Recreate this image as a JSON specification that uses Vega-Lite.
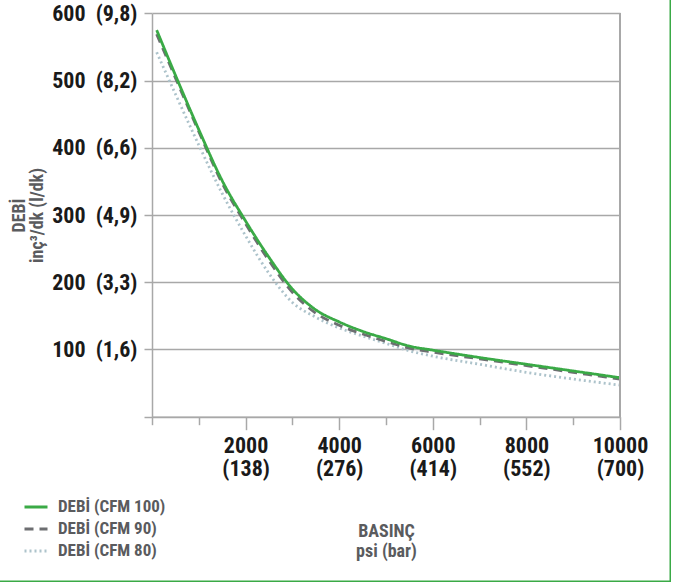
{
  "$schema": "https://vega.github.io/schema/vega-lite/v6.json",
  "width": 671,
  "height": 582,
  "autosize": {"type": "none"},
  "padding": 0,
  "background": "white",
  "config": {
    "view": {"stroke": "#3aaa46", "strokeWidth": 3, "strokeDash": [0, 671, 1253, 582]},
    "font": "'Roboto Condensed', 'DejaVu Sans Condensed', 'Liberation Sans Narrow', 'Arial Narrow', Roboto, sans-serif"
  },
  "data": {
    "values": [
      {"psi": 100, "debi": 542, "seri": "DEBİ (CFM 80)"},
      {"psi": 500, "debi": 480, "seri": "DEBİ (CFM 80)"},
      {"psi": 1000, "debi": 404, "seri": "DEBİ (CFM 80)"},
      {"psi": 1500, "debi": 332, "seri": "DEBİ (CFM 80)"},
      {"psi": 2000, "debi": 269, "seri": "DEBİ (CFM 80)"},
      {"psi": 2500, "debi": 213, "seri": "DEBİ (CFM 80)"},
      {"psi": 3000, "debi": 170, "seri": "DEBİ (CFM 80)"},
      {"psi": 3500, "debi": 148, "seri": "DEBİ (CFM 80)"},
      {"psi": 4000, "debi": 132, "seri": "DEBİ (CFM 80)"},
      {"psi": 4500, "debi": 120, "seri": "DEBİ (CFM 80)"},
      {"psi": 5000, "debi": 109, "seri": "DEBİ (CFM 80)"},
      {"psi": 5500, "debi": 98, "seri": "DEBİ (CFM 80)"},
      {"psi": 6000, "debi": 90, "seri": "DEBİ (CFM 80)"},
      {"psi": 7000, "debi": 78, "seri": "DEBİ (CFM 80)"},
      {"psi": 8000, "debi": 66, "seri": "DEBİ (CFM 80)"},
      {"psi": 9000, "debi": 56, "seri": "DEBİ (CFM 80)"},
      {"psi": 10000, "debi": 47, "seri": "DEBİ (CFM 80)"},
      {"psi": 100, "debi": 569, "seri": "DEBİ (CFM 90)"},
      {"psi": 500, "debi": 504, "seri": "DEBİ (CFM 90)"},
      {"psi": 1000, "debi": 424, "seri": "DEBİ (CFM 90)"},
      {"psi": 1500, "debi": 347, "seri": "DEBİ (CFM 90)"},
      {"psi": 2000, "debi": 287, "seri": "DEBİ (CFM 90)"},
      {"psi": 2500, "debi": 232, "seri": "DEBİ (CFM 90)"},
      {"psi": 3000, "debi": 185, "seri": "DEBİ (CFM 90)"},
      {"psi": 3500, "debi": 154, "seri": "DEBİ (CFM 90)"},
      {"psi": 4000, "debi": 136, "seri": "DEBİ (CFM 90)"},
      {"psi": 4500, "debi": 123, "seri": "DEBİ (CFM 90)"},
      {"psi": 5000, "debi": 112, "seri": "DEBİ (CFM 90)"},
      {"psi": 5500, "debi": 102, "seri": "DEBİ (CFM 90)"},
      {"psi": 6000, "debi": 96, "seri": "DEBİ (CFM 90)"},
      {"psi": 7000, "debi": 86, "seri": "DEBİ (CFM 90)"},
      {"psi": 8000, "debi": 76, "seri": "DEBİ (CFM 90)"},
      {"psi": 9000, "debi": 66, "seri": "DEBİ (CFM 90)"},
      {"psi": 10000, "debi": 56, "seri": "DEBİ (CFM 90)"},
      {"psi": 100, "debi": 575, "seri": "DEBİ (CFM 100)"},
      {"psi": 500, "debi": 508, "seri": "DEBİ (CFM 100)"},
      {"psi": 1000, "debi": 427, "seri": "DEBİ (CFM 100)"},
      {"psi": 1500, "debi": 351, "seri": "DEBİ (CFM 100)"},
      {"psi": 2000, "debi": 291, "seri": "DEBİ (CFM 100)"},
      {"psi": 2500, "debi": 237, "seri": "DEBİ (CFM 100)"},
      {"psi": 3000, "debi": 190, "seri": "DEBİ (CFM 100)"},
      {"psi": 3500, "debi": 159, "seri": "DEBİ (CFM 100)"},
      {"psi": 4000, "debi": 141, "seri": "DEBİ (CFM 100)"},
      {"psi": 4500, "debi": 127, "seri": "DEBİ (CFM 100)"},
      {"psi": 5000, "debi": 116, "seri": "DEBİ (CFM 100)"},
      {"psi": 5500, "debi": 105, "seri": "DEBİ (CFM 100)"},
      {"psi": 6000, "debi": 99, "seri": "DEBİ (CFM 100)"},
      {"psi": 7000, "debi": 88, "seri": "DEBİ (CFM 100)"},
      {"psi": 8000, "debi": 78, "seri": "DEBİ (CFM 100)"},
      {"psi": 9000, "debi": 68, "seri": "DEBİ (CFM 100)"},
      {"psi": 10000, "debi": 58, "seri": "DEBİ (CFM 100)"}
    ]
  },
  "layer": [
    {
      "mark": {"type": "line", "interpolate": "monotone", "strokeWidth": 2.8},
      "encoding": {
        "x": {
          "field": "psi",
          "type": "quantitative",
          "scale": {"domain": [0, 10000], "range": [152, 620], "nice": false, "zero": false},
          "axis": {
            "orient": "bottom",
            "offset": -165.3,
            "values": [0, 1000, 2000, 3000, 4000, 5000, 6000, 7000, 8000, 9000, 10000],
            "domainColor": "#a8a8a8",
            "domainWidth": 1.5,
            "tickColor": "#a8a8a8",
            "tickWidth": 1.5,
            "tickSize": {"condition": {"test": "datum.value > 0 && datum.value % 2000 === 0", "value": 13}, "value": 8},
            "labelExpr": "datum.value > 0 && datum.value % 2000 === 0 ? ['' + datum.value, '(' + ['', '138', '276', '414', '552', '700'][datum.value / 2000] + ')'] : ''",
            "labelFontSize": 22,
            "labelFontWeight": "bold",
            "labelColor": "#1a1a1a",
            "labelLineHeight": 23,
            "labelPadding": 6,
            "labelFlush": false,
            "labelOverlap": false,
            "grid": false,
            "title": ["BASINÇ", "psi (bar)"],
            "titleFontSize": 18,
            "titleFontWeight": "bold",
            "titleColor": "#5a5b5e",
            "titleLineHeight": 20,
            "titlePadding": 43
          }
        },
        "y": {
          "field": "debi",
          "type": "quantitative",
          "scale": {"domain": [0, 600], "range": [416.7, 13.3], "nice": false, "zero": false},
          "axis": {
            "orient": "left",
            "offset": -152,
            "values": [0, 100, 200, 300, 400, 500, 600],
            "domainColor": "#a8a8a8",
            "domainWidth": 1.5,
            "tickColor": "#a8a8a8",
            "tickWidth": 1.5,
            "tickSize": 8,
            "labelExpr": "datum.value > 0 ? datum.value + '\u00a0\u00a0(' + ['', '1,6', '3,3', '4,9', '6,6', '8,2', '9,8'][datum.value / 100] + ')' : ''",
            "labelFontSize": 22,
            "labelFontWeight": "bold",
            "labelColor": "#1a1a1a",
            "labelPadding": 7,
            "labelFlush": false,
            "labelOverlap": false,
            "grid": true,
            "gridColor": "#a8a8a8",
            "gridWidth": 1.5,
            "title": ["DEBİ", "inç³/dk (l/dk)"],
            "titleFontSize": 18,
            "titleFontWeight": "bold",
            "titleColor": "#5a5b5e",
            "titleLineHeight": 18,
            "titlePadding": 5
          }
        },
        "color": {
          "field": "seri",
          "type": "nominal",
          "scale": {
            "domain": ["DEBİ (CFM 100)", "DEBİ (CFM 90)", "DEBİ (CFM 80)"],
            "range": ["#3aaa46", "#6d6e71", "#adc3cb"]
          },
          "legend": {
            "orient": "bottom-left",
            "offset": 23,
            "title": null,
            "padding": 0,
            "labelFontSize": 17,
            "labelFontWeight": "bold",
            "labelColor": "#5a5b5e",
            "symbolType": "stroke",
            "symbolSize": 529,
            "symbolStrokeWidth": 3,
            "labelOffset": 9,
            "rowPadding": 1
          }
        },
        "strokeDash": {
          "field": "seri",
          "type": "nominal",
          "scale": {
            "domain": ["DEBİ (CFM 100)", "DEBİ (CFM 90)", "DEBİ (CFM 80)"],
            "range": [[1, 0], [9, 6], [2, 3]]
          }
        }
      }
    },
    {
      "mark": {"type": "rule", "color": "#a8a8a8", "strokeWidth": 1.5},
      "encoding": {
        "x": {"datum": 10000},
        "y": {"datum": 0},
        "y2": {"datum": 600}
      }
    }
  ]
}
